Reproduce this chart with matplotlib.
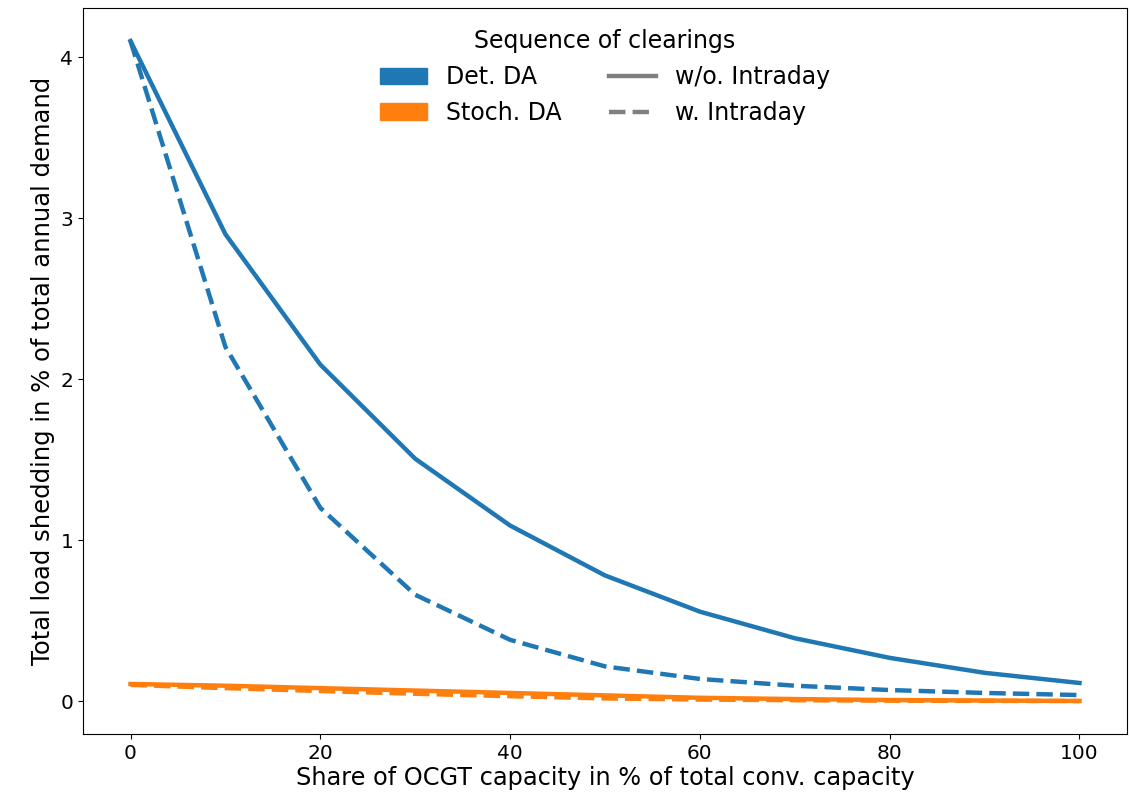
import numpy as np
import matplotlib
matplotlib.use("Agg")
from matplotlib import pyplot as plt
from matplotlib.patches import Patch
from matplotlib.lines import Line2D

# share of OCGT capacity (%)
share = [0, 10, 20, 30, 40, 50, 60, 70, 80, 90, 100]

# load shedding in % of annual demand
det_wo_id = [4.10, 2.90, 2.09, 1.505, 1.09, 0.78, 0.555, 0.39, 0.268, 0.175, 0.112]
det_w_id = [4.10, 2.20, 1.20, 0.66, 0.38, 0.215, 0.137, 0.095, 0.068, 0.05, 0.037]
sto_wo_id = [0.106, 0.095, 0.08, 0.065, 0.05, 0.035, 0.02, 0.012, 0.006, 0.003, 0.0]
sto_w_id = [0.10, 0.08, 0.062, 0.045, 0.03, 0.016, 0.009, 0.005, 0.002, 0.001, 0.0]

c_det = '#1f77b4'
c_sto = '#ff7f0e'

fig = plt.figure(figsize=(11.3, 7.93), dpi=100)
ax = fig.add_axes([0.0735, 0.0744, 0.9238, 0.9155])

lw = 3.2
ax.plot(share, det_wo_id, color=c_det, lw=lw, ls='-')
ax.plot(share, det_w_id, color=c_det, lw=lw, ls='--')
ax.plot(share, sto_wo_id, color=c_sto, lw=lw, ls='-')
ax.plot(share, sto_w_id, color=c_sto, lw=lw, ls='--')

ax.set_xticks([0, 20, 40, 60, 80, 100])
ax.set_yticks([0, 1, 2, 3, 4])
ax.tick_params(labelsize=14.5)
ax.set_xlabel('Share of OCGT capacity in % of total conv. capacity', fontsize=17.3, labelpad=2)
ax.set_ylabel('Total load shedding in % of total annual demand', fontsize=17.5)

handles = [Patch(color=c_det, label='Det. DA'),
           Patch(color=c_sto, label='Stoch. DA'),
           Line2D([], [], color='grey', lw=lw, ls='-', label='w/o. Intraday'),
           Line2D([], [], color='grey', lw=lw, ls='--', label='w. Intraday')]
ax.legend(handles=handles, ncol=2, loc='upper center', bbox_to_anchor=(0.5, 1.0),
          frameon=False, fontsize=17, title='Sequence of clearings', title_fontsize=17)

plt.savefig('out.png', dpi=100)
